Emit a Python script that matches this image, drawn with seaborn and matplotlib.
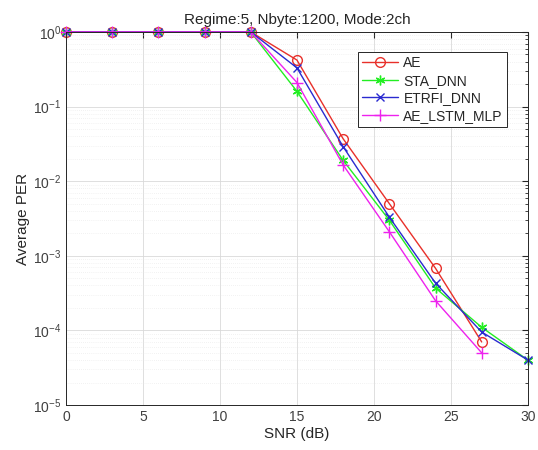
import numpy as np
import pandas as pd
import matplotlib
matplotlib.use("Agg")
import matplotlib.pyplot as plt
import seaborn as sns
from matplotlib.ticker import LogLocator, NullFormatter

sns.set_style("white")
plt.rcParams['font.family'] = ['Liberation Sans', 'DejaVu Sans']

snr_full = [0, 3, 6, 9, 12, 15, 18, 21, 24, 27, 30]
snr_27 = [0, 3, 6, 9, 12, 15, 18, 21, 24, 27]

ae = [1, 1, 1, 1, 1, 0.42, 0.037, 0.0050, 0.00068, 0.00007]
sta_dnn = [1, 1, 1, 1, 1, 0.16, 0.019, 0.0030, 0.00037, 0.00011, 0.00004]
etrfi_dnn = [1, 1, 1, 1, 1, 0.33, 0.029, 0.0033, 0.00043, 0.000095, 0.00004]
ae_lstm_mlp = [1, 1, 1, 1, 1, 0.21, 0.0165, 0.0021, 0.00025, 0.00005]

series_names = ["AE", "STA_DNN", "ETRFI_DNN", "AE_LSTM_MLP"]
series_x = [snr_27, snr_full, snr_full, snr_27]
series_y = [ae, sta_dnn, etrfi_dnn, ae_lstm_mlp]
colors = ["#e8302a", "#22ee22", "#2a2ad0", "#ee22ee"]
markers = ["o", (6, 2, 0), "x", "+"]
msizes = [7, 7, 6, 8]

fig = plt.figure(figsize=(5.38, 4.5), dpi=100)
ax = fig.add_axes([0.1227, 0.1, 0.8585, 0.829])

for name, xs, ys, c, m, ms in zip(series_names, series_x, series_y, colors, markers, msizes):
    df = pd.DataFrame({"SNR": xs, "PER": ys})
    kw = dict(marker=m, markersize=ms, markeredgewidth=1.0, color=c, linewidth=1.0,
              label=name, markeredgecolor=c, clip_on=False)
    if m == "o":
        kw["markerfacecolor"] = "none"
    else:
        kw["markerfacecolor"] = c
    sns.lineplot(data=df, x="SNR", y="PER", ax=ax, **kw)

ax.set_yscale("log")
ax.set_xlim(0, 30)
ax.set_ylim(1e-5, 1)
ax.set_xticks([0, 5, 10, 15, 20, 25, 30])
ax.yaxis.set_major_locator(LogLocator(base=10, numticks=10))
ax.yaxis.set_minor_locator(LogLocator(base=10, subs=np.arange(2, 10), numticks=100))
ax.yaxis.set_minor_formatter(NullFormatter())

ax.grid(True, which="major", color="#d9d9d9", linewidth=0.6)
ax.grid(True, which="minor", axis="y", color="#e6e6e6", linewidth=0.5, linestyle=(0, (1, 2)))
ax.set_axisbelow(True)

for s in ax.spines.values():
    s.set_visible(True)
    s.set_color("#262626")
    s.set_linewidth(0.7)
ax.tick_params(which="both", direction="in", top=True, right=True, colors="#262626",
               labelcolor="#404040", labelsize=10)
ax.tick_params(which="major", length=4)
ax.tick_params(which="minor", length=2)

ax.set_xlabel("SNR (dB)", fontsize=11, color="#262626", labelpad=2)
ax.set_ylabel("Average PER", fontsize=11, color="#262626", labelpad=2)
ax.set_title("Regime:5, Nbyte:1200, Mode:2ch", fontsize=11, color="#262626", pad=6)

leg = ax.legend(loc="upper right", bbox_to_anchor=(0.97, 0.965), fontsize=10,
                frameon=True, fancybox=False, edgecolor="#262626", framealpha=1,
                borderpad=0.3, labelspacing=0.25, handlelength=2.6, handletextpad=0.4)
leg.get_frame().set_linewidth(0.7)

fig.savefig("out.png", dpi=100, facecolor="white")
